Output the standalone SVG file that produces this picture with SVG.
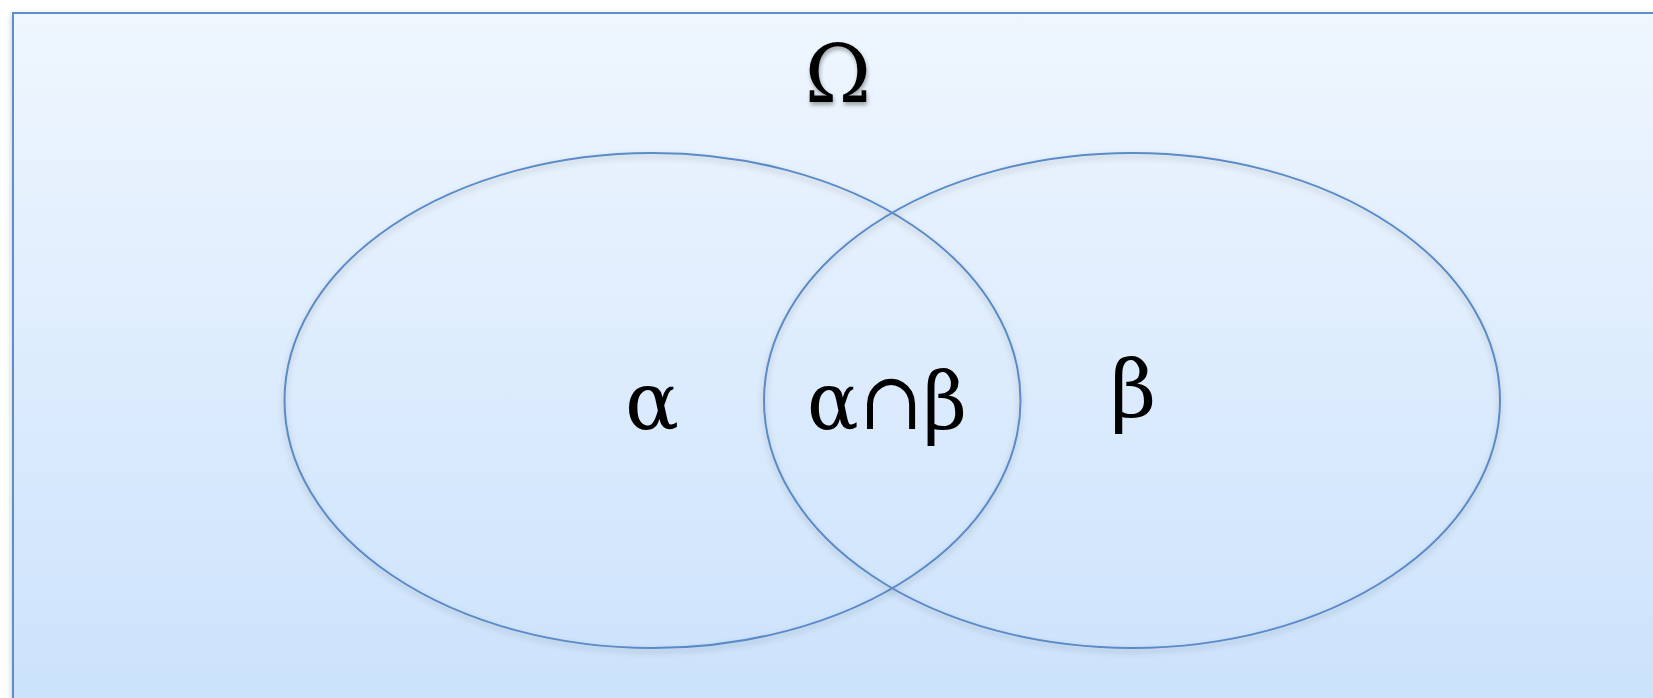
<svg xmlns="http://www.w3.org/2000/svg" width="1653" height="698" viewBox="0 0 1653 698">
<defs>
<linearGradient id="bg" x1="0" y1="0" x2="0" y2="1">
<stop offset="0" stop-color="#eff6fe"/>
<stop offset="1" stop-color="#cbe2fc"/>
</linearGradient>
<filter id="sh" x="-5%" y="-5%" width="110%" height="115%">
<feGaussianBlur in="SourceAlpha" stdDeviation="3"/>
<feOffset dx="0" dy="3" result="b"/>
<feComponentTransfer><feFuncA type="linear" slope="0.25"/></feComponentTransfer>
<feMerge><feMergeNode/><feMergeNode in="SourceGraphic"/></feMerge>
</filter>
<filter id="tsh" x="-20%" y="-20%" width="140%" height="150%">
<feGaussianBlur in="SourceAlpha" stdDeviation="2"/>
<feOffset dx="1" dy="3" result="b"/>
<feComponentTransfer><feFuncA type="linear" slope="0.35"/></feComponentTransfer>
<feMerge><feMergeNode/><feMergeNode in="SourceGraphic"/></feMerge>
</filter>
</defs>
<style>
.set{fill:none;stroke:#5a8bc8;stroke-width:2}
.lbl{font-family:"DejaVu Serif","Liberation Serif",serif;fill:#000;text-anchor:middle}
</style>
<rect width="1653" height="698" fill="#ffffff"/>
<g id="universe" filter="url(#sh)">
<rect x="13" y="13" width="1660" height="700" fill="url(#bg)" stroke="#5b8fd0" stroke-width="2"/>
</g>
<text id="omega" class="lbl" x="838" y="102" font-size="80" filter="url(#tsh)">Ω</text>
<g id="setA" filter="url(#sh)">
<ellipse class="set" cx="652.5" cy="400.5" rx="368" ry="247.5"/>
</g>
<g id="setB" filter="url(#sh)">
<ellipse class="set" cx="1132" cy="400.5" rx="368" ry="247.5"/>
</g>
<text id="alpha" class="lbl" x="652" y="429" font-size="80">α</text>
<text id="intersection" class="lbl" x="887" y="429" font-size="80" textLength="160" lengthAdjust="spacingAndGlyphs">α∩β</text>
<text id="beta" class="lbl" x="1133" y="417" font-size="80">β</text>
</svg>
